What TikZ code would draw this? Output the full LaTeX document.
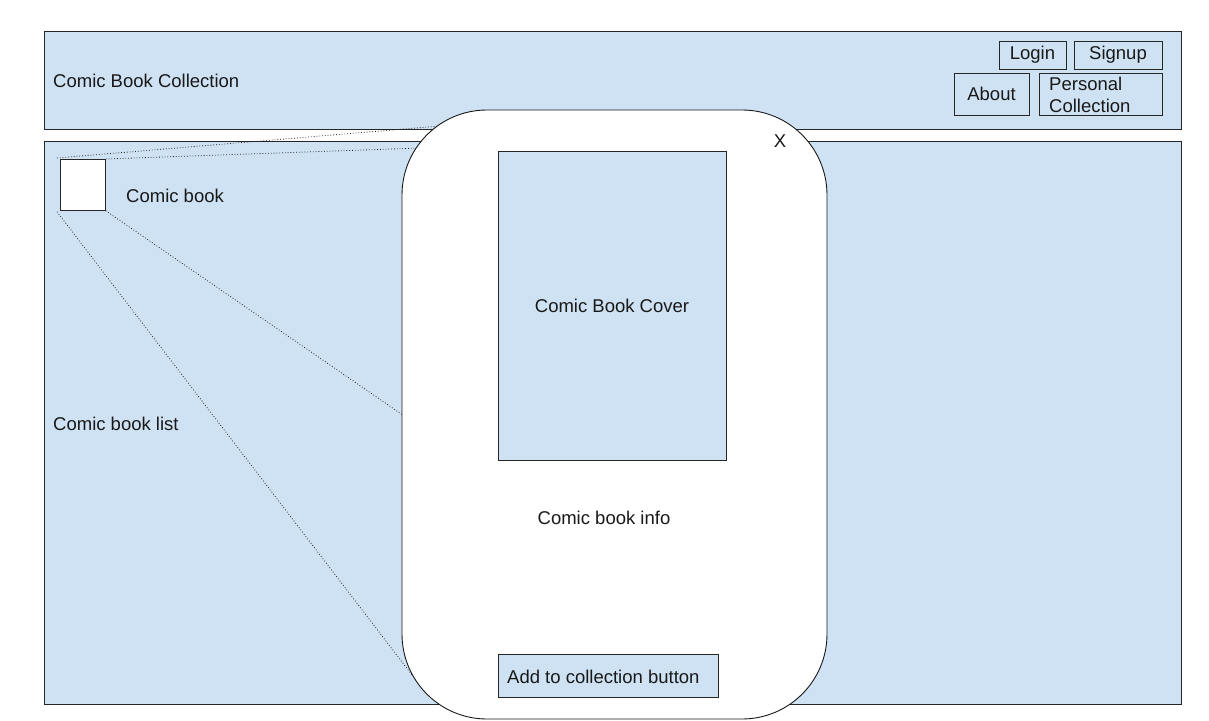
\documentclass[tikz,border=0pt]{standalone}
\usepackage{fontspec}
\setmainfont{Liberation Sans}
\begin{document}
\begin{tikzpicture}[x=1pt,y=-1pt,
  panel/.style={draw=black!85, fill=boxblue, line width=0.8pt},
  btn/.style={draw=black!85, fill=boxblue, line width=0.8pt},
  lbl/.style={font=\fontsize{18.5}{21}\selectfont, text=black!90, inner sep=0pt},
  zoomline/.style={draw=black!85, dotted, line width=0.8pt}]
\definecolor{boxblue}{HTML}{CFE2F3}
\useasboundingbox (0,0) rectangle (1209,720);
\fill[white] (0,0) rectangle (1209,720);
% header
\draw[panel] (44,31) rectangle (1181,129);
\node[lbl, anchor=west] (title) at (53,81) {Comic Book Collection};
\draw[btn] (999,41) rectangle node[lbl] (login) {Login} (1066,69);
\draw[btn] (1074,41) rectangle node[lbl] (signup) {Signup} (1162,69);
\draw[btn] (954,73) rectangle node[lbl] (about) {About} (1029,115);
\draw[btn] (1039,73) rectangle (1162,115);
\node[lbl, anchor=west, align=left, font=\fontsize{18.5}{22}\selectfont] (pc) at (1049,95) {Personal\\Collection};
% main
\draw[panel] (44,141) rectangle (1181,704);
\node[lbl, anchor=west] (list) at (53,424) {Comic book list};
\node[draw=black!85, fill=white, line width=0.8pt, minimum width=45pt, minimum height=51pt, inner sep=0pt, anchor=north west] (book) at (60,159) {};
\node[lbl, anchor=west] (booklbl) at (126,196) {Comic book};
% zoom lines
\coordinate (z1) at (440,126);
\coordinate (z2) at (420,148);
\coordinate (z3) at (412,675);
\coordinate (z4) at (410,420);
\draw[zoomline] (book.north west) ++(-3,-1) -- (z1);
\draw[zoomline] (book.north east) -- (z2);
\draw[zoomline] (book.south west) ++(-3,1) -- (z3);
\draw[zoomline] (book.south east) -- (z4);
% popup
\draw[draw=black!90, fill=white, line width=0.9pt, rounded corners=85pt] (402,110) rectangle (827,719);
\node[lbl] (close) at (780,141) {X};
\draw[btn] (498,151) rectangle node[lbl] (cover) {Comic Book Cover} (726,460);
\node[lbl] (info) at (604,518) {Comic book info};
\draw[btn] (498,654) rectangle (718,697);
\node[lbl, anchor=west] (add) at (507,677) {Add to collection button};
\end{tikzpicture}
\end{document}
